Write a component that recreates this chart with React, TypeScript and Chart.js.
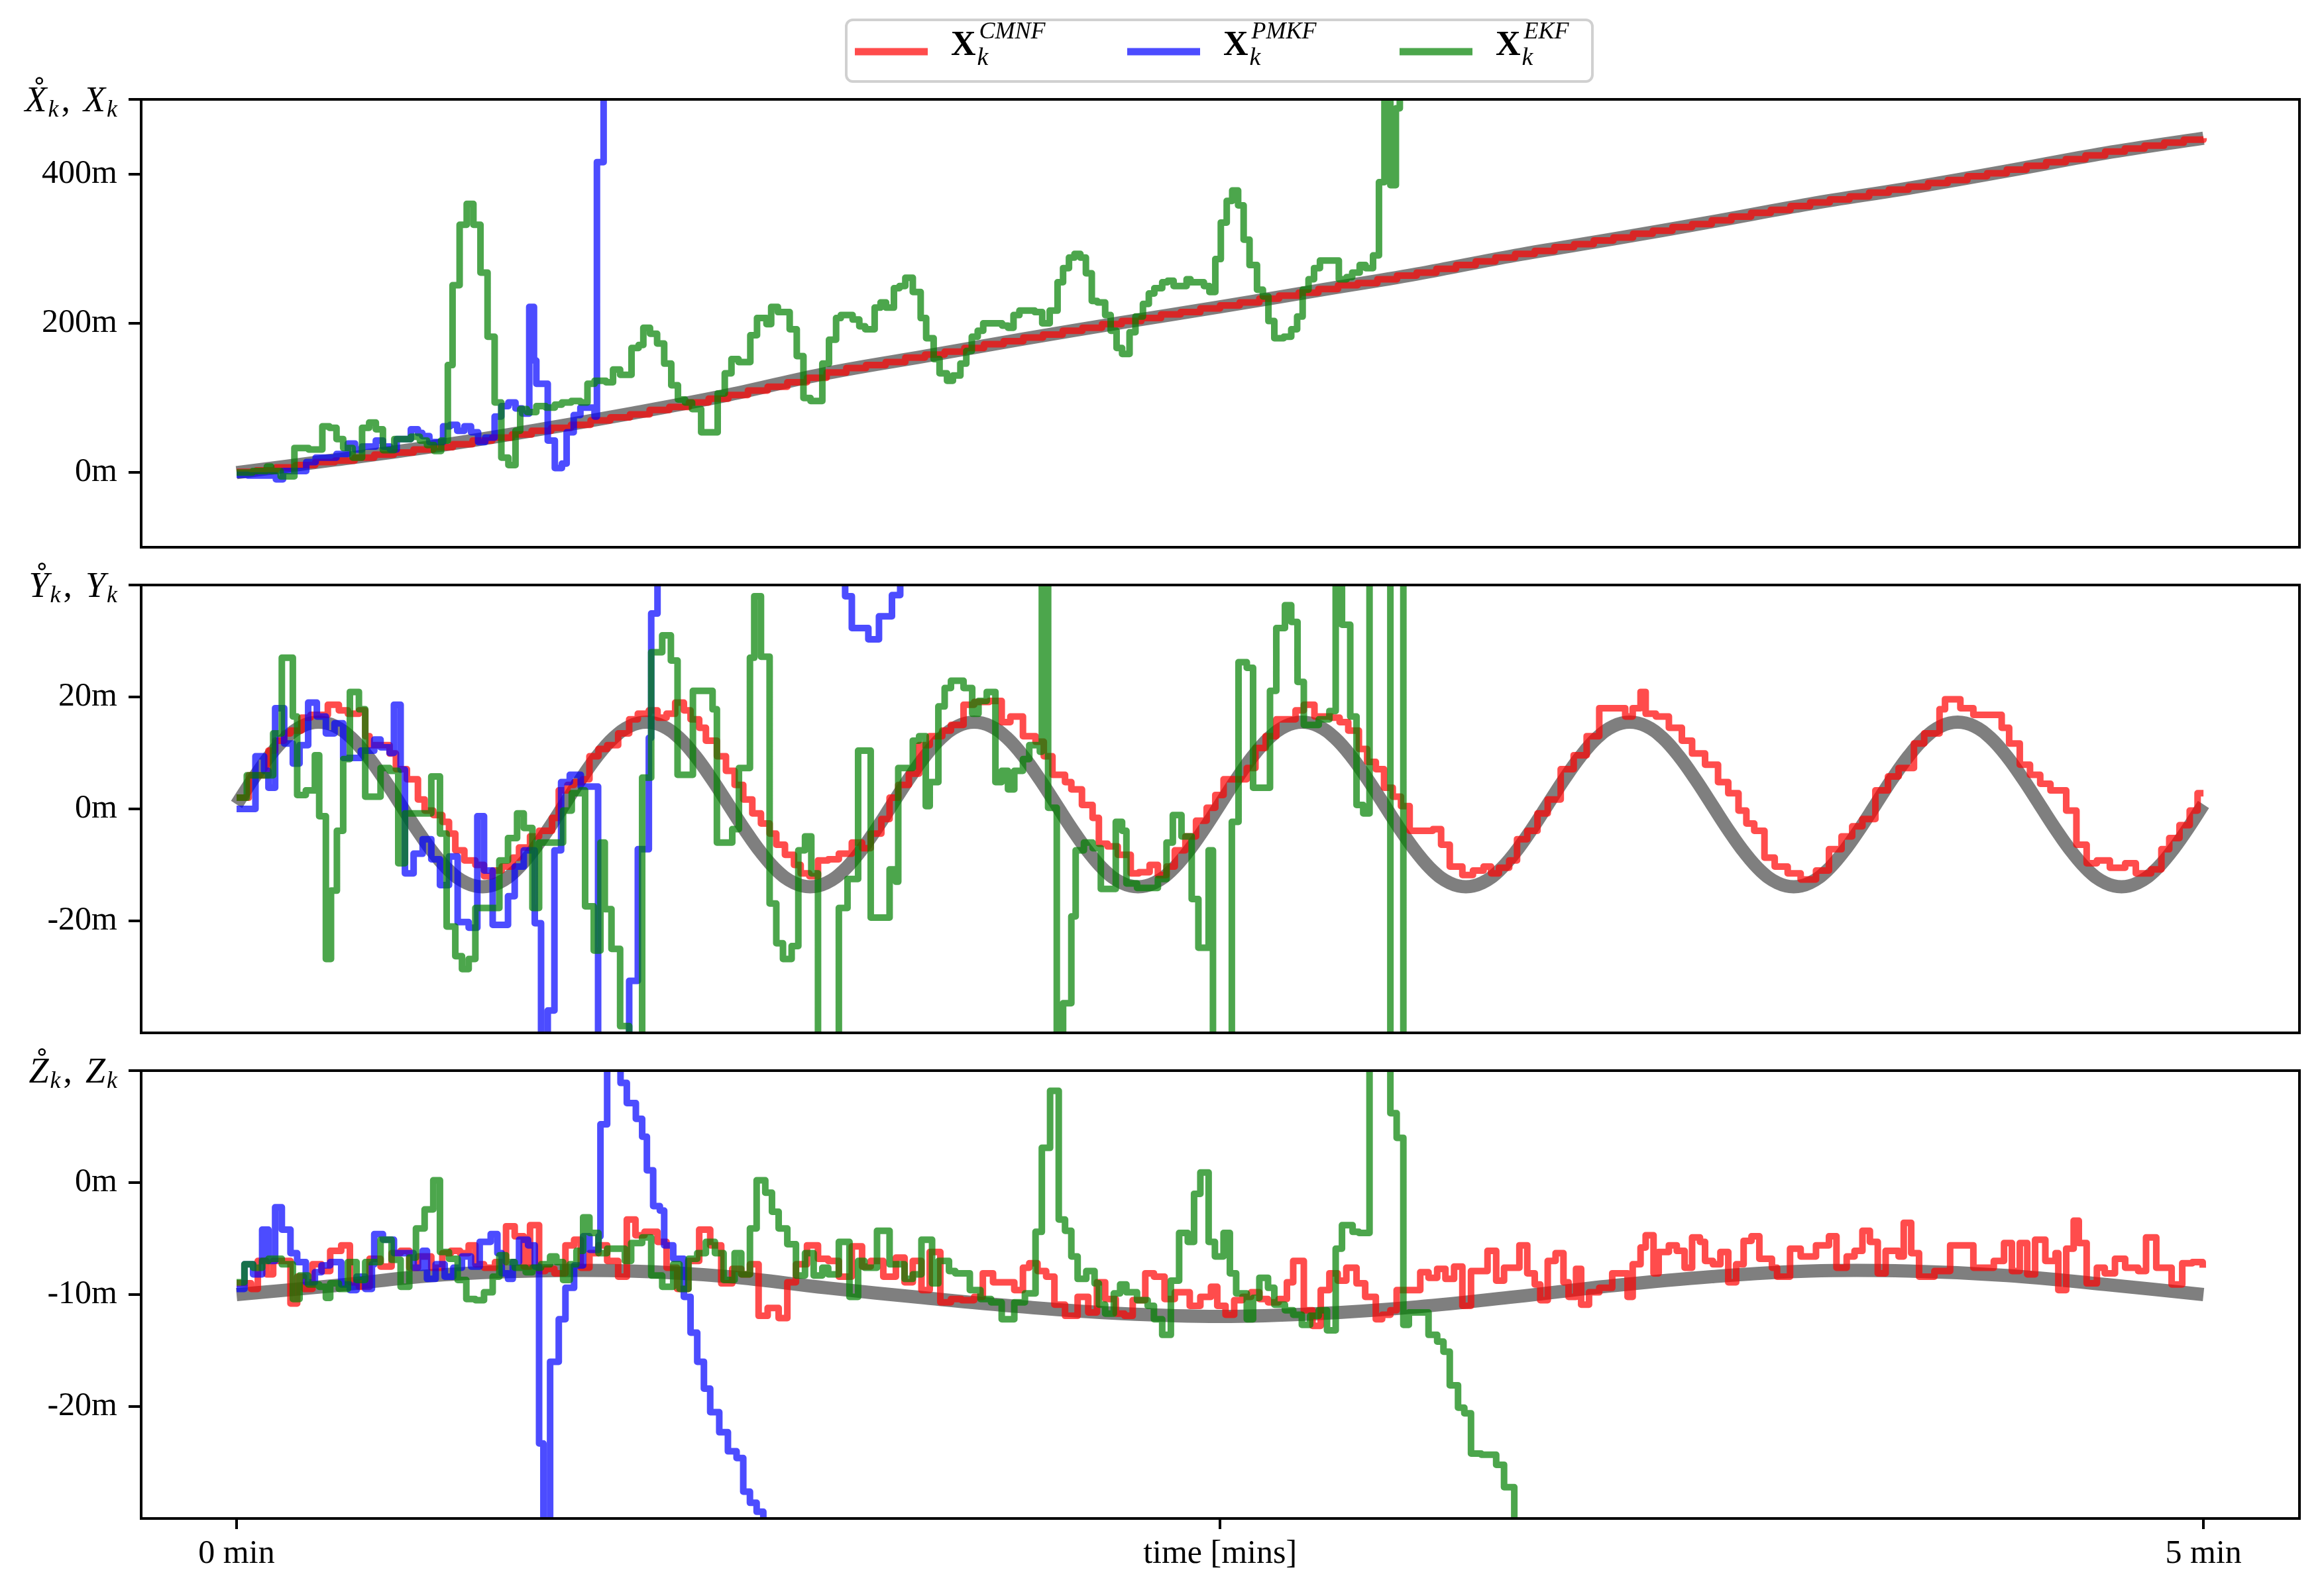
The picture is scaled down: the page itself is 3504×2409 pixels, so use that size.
import React, { useEffect, useRef } from "react";
import { Chart, registerables } from "chart.js";

Chart.register(...registerables);

// ----------------------------------------------------------------- data ---
// time in minutes
const quarterTimes = [0, 0.25, 0.5, 0.75, 1, 1.25, 1.5, 1.75, 2, 2.25, 2.5, 2.75, 3, 3.25, 3.5, 3.75, 4, 4.25, 4.5, 4.75, 5];

// ground truth
const truthX = [0, 17, 35, 56, 79, 104, 133, 156, 179, 201, 222, 244, 266, 291, 313, 336, 360, 381, 404, 428, 448];
const truthZ = [-10.0, -9.2, -8.3, -7.9, -7.9, -8.4, -9.4, -10.3, -11.1, -11.7, -11.95, -11.7, -11.1, -10.2, -9.2, -8.4, -7.9, -7.9, -8.3, -9.1, -10.0];
const TRUTH_Y_DT = 1 / 24;
const truthY = [
  0.8, 5.3, 9.4, 12.7, 14.8, 15.5, 14.8, 12.7, 9.4, 5.3, 0.8, -3.7, -7.8, -11.1, -13.2, -13.9, -13.2, -11.1, -7.8, -3.7,
  0.8, 5.3, 9.4, 12.7, 14.8, 15.5, 14.8, 12.7, 9.4, 5.3, 0.8, -3.7, -7.8, -11.1, -13.2, -13.9, -13.2, -11.1, -7.8, -3.7,
  0.8, 5.3, 9.4, 12.7, 14.8, 15.5, 14.8, 12.7, 9.4, 5.3, 0.8, -3.7, -7.8, -11.1, -13.2, -13.9, -13.2, -11.1, -7.8, -3.7,
  0.8, 5.3, 9.4, 12.7, 14.8, 15.5, 14.8, 12.7, 9.4, 5.3, 0.8, -3.7, -7.8, -11.1, -13.2, -13.9, -13.2, -11.1, -7.8, -3.7,
  0.8, 5.3, 9.4, 12.7, 14.8, 15.5, 14.8, 12.7, 9.4, 5.3, 0.8, -3.7, -7.8, -11.1, -13.2, -13.9, -13.2, -11.1, -7.8, -3.7,
  0.8, 5.3, 9.4, 12.7, 14.8, 15.5, 14.8, 12.7, 9.4, 5.3, 0.8, -3.7, -7.8, -11.1, -13.2, -13.9, -13.2, -11.1, -7.8, -3.7,
  0.8,
];

// CMNF estimate of X (uniform 0.05 min steps)
const CMNF_X_DT = 0.05;
const cmnfX = [
  1, 3, 7, 10, 14, 16, 20, 24, 27, 31,
  34, 38, 43, 47, 51, 56, 60, 64, 70, 74,
  78, 84, 88, 94, 99, 104, 110, 115, 121, 127,
  134, 140, 144, 148, 154, 158, 162, 167, 172, 176,
  181, 185, 190, 194, 199, 203, 207, 212, 215, 220,
  224, 228, 233, 237, 241, 246, 251, 254, 259, 264,
  268, 273, 278, 283, 288, 293, 297, 302, 306, 311,
  315, 320, 324, 329, 333, 338, 343, 348, 352, 357,
  362, 366, 370, 375, 379, 383, 388, 392, 397, 401,
  406, 411, 416, 420, 425, 430, 434, 438, 442, 446,
  448,
];

// [time, value] step breakpoints
const pmkfX: [number, number][] = [
  [0, -3], [0.029, -4], [0.1, -9], [0.118, 2], [0.177, 14], [0.201, 20], [0.254, 25], [0.283, 39], [0.301, 31],
  [0.319, 35], [0.354, 43], [0.372, 35], [0.39, 31], [0.407, 45], [0.443, 58], [0.461, 53], [0.472, 49], [0.49, 41],
  [0.525, 62], [0.543, 64], [0.561, 56], [0.579, 62], [0.596, 54], [0.614, 41], [0.632, 47], [0.656, 75], [0.673, 89],
  [0.691, 94], [0.709, 86], [0.726, 79], [0.744, 222], [0.756, 150], [0.762, 119], [0.791, 43], [0.809, 6], [0.827, 12],
  [0.839, 54], [0.857, 77], [0.874, 87], [0.91, 75], [0.916, 416], [0.933, 700], [0.95, 900],
];

const ekfX: [number, number][] = [
  [0, 0], [0.041, 2], [0.077, 8], [0.088, 2], [0.112, -5], [0.147, 33], [0.183, 31], [0.218, 62], [0.236, 60],
  [0.254, 45], [0.271, 33], [0.295, 20], [0.319, 60], [0.337, 67], [0.354, 58], [0.372, 30], [0.401, 45], [0.443, 48],
  [0.466, 43], [0.484, 37], [0.502, 29], [0.52, 43], [0.537, 144], [0.549, 251], [0.567, 332], [0.585, 360],
  [0.602, 332], [0.62, 268], [0.638, 182], [0.656, 94], [0.673, 20], [0.691, 10], [0.709, 56], [0.721, 85],
  [0.738, 81], [0.762, 89], [0.786, 87], [0.809, 91], [0.827, 94], [0.851, 96], [0.874, 94], [0.892, 119],
  [0.91, 123], [0.939, 121], [0.957, 138], [0.975, 131], [1.004, 167], [1.022, 171], [1.034, 194], [1.051, 186],
  [1.069, 173], [1.087, 146], [1.105, 117], [1.122, 98], [1.14, 94], [1.158, 85], [1.181, 54], [1.223, 106],
  [1.241, 133], [1.258, 152], [1.276, 148], [1.306, 184], [1.323, 207], [1.347, 199], [1.359, 222], [1.376, 215],
  [1.406, 192], [1.424, 156], [1.441, 100], [1.459, 96], [1.489, 146], [1.506, 178], [1.524, 207], [1.536, 211],
  [1.566, 205], [1.583, 196], [1.598, 192], [1.622, 221], [1.637, 228], [1.651, 221], [1.671, 247], [1.685, 250],
  [1.7, 261], [1.719, 242], [1.739, 207], [1.753, 180], [1.772, 152], [1.787, 133], [1.806, 123], [1.821, 130],
  [1.84, 146], [1.855, 163], [1.869, 182], [1.884, 190], [1.898, 200], [1.946, 197], [1.961, 194], [1.975, 211],
  [1.99, 217], [2.029, 215], [2.048, 200], [2.067, 217], [2.087, 255], [2.101, 274], [2.116, 288], [2.13, 293],
  [2.145, 288], [2.159, 267], [2.174, 230], [2.188, 228], [2.208, 211], [2.222, 190], [2.237, 167], [2.251, 159],
  [2.27, 188], [2.285, 209], [2.304, 226], [2.319, 240], [2.333, 247], [2.353, 255], [2.367, 257], [2.382, 250],
  [2.415, 259], [2.425, 255], [2.459, 250], [2.473, 242], [2.488, 286], [2.502, 335], [2.517, 364], [2.531, 378],
  [2.546, 358], [2.56, 312], [2.575, 278], [2.594, 245], [2.609, 236], [2.623, 203], [2.638, 180], [2.662, 182],
  [2.681, 192], [2.696, 209], [2.71, 245], [2.725, 259], [2.739, 274], [2.754, 284], [2.802, 259], [2.822, 262],
  [2.836, 268], [2.855, 278], [2.87, 274], [2.889, 291], [2.904, 389], [2.918, 530], [2.933, 385], [2.947, 488],
  [2.957, 520], [2.971, 700], [3.0, 900],
];

const cmnfY: [number, number][] = [
  [0, 2], [0.031, 6], [0.081, 10.4], [0.098, 12.2], [0.121, 13.5], [0.137, 14], [0.165, 16.3], [0.188, 16.8],
  [0.232, 18.6], [0.26, 17.6], [0.283, 17], [0.311, 17.6], [0.327, 13], [0.338, 11.4], [0.389, 9.9], [0.405, 7.1],
  [0.433, 5.3], [0.461, 1.7], [0.478, -0.3], [0.5, -1.1], [0.523, -2.3], [0.54, -4.4], [0.556, -7.4], [0.579, -9.2],
  [0.607, -10], [0.629, -12], [0.651, -11], [0.674, -10.3], [0.702, -8.7], [0.718, -6.9], [0.746, -4.9], [0.769, -3.9],
  [0.802, -1.6], [0.819, 3.3], [0.841, 4.3], [0.858, 4.8], [0.88, 5.3], [0.897, 9.4], [0.92, 10.7], [0.942, 11.4],
  [0.97, 13.5], [0.998, 16], [1.02, 17], [1.048, 17.6], [1.07, 16.3], [1.093, 17], [1.115, 19], [1.137, 17.6],
  [1.154, 16], [1.176, 14.5], [1.193, 12.2], [1.221, 9.4], [1.244, 6.8], [1.266, 4.3], [1.288, 1.7], [1.311, -0.8],
  [1.333, -2.6], [1.355, -4.4], [1.372, -6.4], [1.394, -8.2], [1.417, -10], [1.434, -11.5], [1.456, -12],
  [1.478, -9.2], [1.504, -9], [1.531, -8], [1.564, -6], [1.59, -7], [1.612, -4.4], [1.639, -1.8], [1.66, 2],
  [1.682, 4.3], [1.709, 6.3], [1.735, 11.4], [1.762, 13], [1.794, 14], [1.816, 15], [1.848, 18.6], [1.875, 19.1],
  [1.913, 19.3], [1.945, 15.5], [1.967, 16.5], [1.999, 13], [2.031, 12], [2.052, 9.4], [2.074, 6.1], [2.106, 4.8],
  [2.122, 3.5], [2.149, 0.7], [2.176, -1.6], [2.192, -6.2], [2.214, -6.7], [2.24, -8.2], [2.273, -11.5],
  [2.294, -11.3], [2.321, -10], [2.342, -11.8], [2.364, -10.3], [2.385, -7.4], [2.412, -4.9], [2.439, -2.1],
  [2.466, 0.2], [2.488, 2.5], [2.509, 5.3], [2.568, 7.3], [2.59, 10.9], [2.616, 13], [2.643, 16], [2.692, 17.6],
  [2.713, 18.6], [2.74, 16.5], [2.783, 16.3], [2.804, 15.5], [2.826, 14], [2.853, 10.7], [2.874, 8.4], [2.896, 7.1],
  [2.917, 3.8], [2.939, 2.2], [2.96, 0.5], [2.982, -3.9], [3.041, -3.6], [3.062, -6.4], [3.084, -10.3],
  [3.116, -11.8], [3.143, -11], [3.17, -10.3], [3.189, -11.5], [3.209, -10.5], [3.235, -9.2], [3.255, -5.4],
  [3.281, -3.9], [3.307, -0.8], [3.333, 1.7], [3.366, 7.1], [3.399, 9.6], [3.432, 13], [3.464, 18], [3.53, 16.5],
  [3.549, 18], [3.569, 20.9], [3.582, 17], [3.608, 16.5], [3.641, 14.5], [3.674, 12.2], [3.7, 9.9], [3.733, 7.9],
  [3.766, 4.8], [3.792, 2.8], [3.818, -0.3], [3.838, -2.6], [3.858, -3.9], [3.884, -8.7], [3.91, -10.3],
  [3.943, -11.5], [3.976, -12.6], [4.015, -11], [4.048, -7.2], [4.08, -4.9], [4.107, -3.1], [4.133, -1.8],
  [4.166, 3.3], [4.198, 5.8], [4.225, 7.3], [4.264, 11.7], [4.29, 13.5], [4.329, 17.8], [4.343, 19.6], [4.382, 18],
  [4.415, 16.8], [4.487, 14.5], [4.506, 11.7], [4.533, 7.9], [4.559, 6.1], [4.585, 4.5], [4.611, 3.3],
  [4.651, -0.3], [4.677, -6.4], [4.703, -9.7], [4.729, -9.2], [4.762, -10.5], [4.801, -9.7], [4.828, -11.5],
  [4.867, -10.8], [4.893, -7.2], [4.913, -5.2], [4.939, -2.9], [4.965, -0.3], [4.985, 2.8], [5.0, 2.8],
];

const pmkfY: [number, number][] = [
  [0, 0], [0.048, 9.4], [0.07, 6.8], [0.081, 3.8], [0.098, 18], [0.121, 11.7], [0.143, 8.1], [0.16, 11.4],
  [0.182, 19], [0.204, 16.5], [0.227, 13.5], [0.249, 15.3], [0.271, 9.1], [0.316, 10.4], [0.35, 12.4], [0.366, 11],
  [0.389, 10], [0.4, 18.6], [0.417, 7], [0.428, -11.5], [0.45, -8], [0.473, -5.4], [0.495, -9], [0.517, -13.6],
  [0.54, -8.5], [0.562, -20.2], [0.59, -21.2], [0.612, -1.3], [0.629, -11], [0.651, -20.7], [0.69, -15.6],
  [0.707, -10.3], [0.73, -7.4], [0.758, -20.4], [0.774, -45], [0.791, -36], [0.808, -7.4], [0.825, 4.8],
  [0.847, 6.1], [0.875, 4], [0.919, -45], [0.998, -30.7], [1.02, -7.2], [1.048, 12.7], [1.054, 34.9], [1.07, 60],
  [1.547, 38], [1.564, 32.3], [1.606, 30.3], [1.633, 34.4], [1.666, 38.2], [1.687, 60], [1.7, 100],
];

const ekfY: [number, number][] = [
  [0, 2], [0.026, 6], [0.065, 6], [0.093, 13.5], [0.115, 27], [0.143, 16.5], [0.154, 2.5], [0.176, 3.3],
  [0.199, 9.6], [0.21, -1.3], [0.227, -26.8], [0.24, -14.6], [0.255, -3.9], [0.271, 8.9], [0.288, 20.9],
  [0.311, 17.8], [0.327, 2.2], [0.366, 7.3], [0.389, 6.8], [0.411, -9.7], [0.428, -0.8], [0.495, 5.8], [0.517, -4.4],
  [0.534, -21], [0.556, -26.3], [0.573, -28.6], [0.59, -26.8], [0.607, -17.7], [0.668, -9.2], [0.69, -5.2],
  [0.713, -0.8], [0.73, -3.4], [0.752, -17.7], [0.769, -6], [0.83, -0.3], [0.852, 2.8], [0.875, 3.3], [0.886, -17.4],
  [0.908, -25.3], [0.925, -6], [0.936, -17.9], [0.953, -25], [0.975, -38.8], [0.998, -45], [1.031, 5.6], [1.054, 28],
  [1.082, 31], [1.104, 26.5], [1.121, 6.1], [1.16, 21.1], [1.21, 17.8], [1.221, -6], [1.26, -3.6], [1.277, 7.3],
  [1.305, 27], [1.316, 38], [1.333, 27.2], [1.355, -16.9], [1.372, -24], [1.389, -26.8], [1.411, -24.5],
  [1.428, -7.4], [1.445, -4.9], [1.461, -11.5], [1.478, -45], [1.531, -17.7], [1.553, -12.5], [1.58, 10.4],
  [1.612, -19.4], [1.66, -10.8], [1.676, -13], [1.682, 7.3], [1.719, 12.2], [1.735, 13], [1.752, 0.5], [1.762, 4.8],
  [1.784, 18.3], [1.8, 21.6], [1.816, 22.9], [1.848, 21.6], [1.87, 17], [1.886, 19.3], [1.907, 20.9], [1.929, 4.8],
  [1.945, 6.8], [1.961, 3.5], [1.977, 6.8], [1.999, 8.9], [2.015, 11.4], [2.042, 10.2], [2.047, 60], [2.063, 0.2],
  [2.085, -50], [2.101, -34.7], [2.122, -19.2], [2.133, -7.4], [2.154, -6], [2.176, -7], [2.197, -14.3],
  [2.235, -2.3], [2.251, -3.9], [2.262, -13.3], [2.289, -14.1], [2.342, -12.5], [2.364, -6], [2.38, -1.1],
  [2.402, -4.9], [2.428, -16.1], [2.445, -24.8], [2.471, -7.4], [2.482, -50], [2.53, -2.3], [2.547, 26.2],
  [2.568, 25.2], [2.584, 3.8], [2.627, 21.1], [2.643, 32.3], [2.665, 36.4], [2.681, 33.4], [2.697, 22.7],
  [2.713, 15], [2.751, 16], [2.778, 17.5], [2.794, 60], [2.81, 32.9], [2.831, 16.5], [2.847, 0.7], [2.864, -0.8],
  [2.88, 60], [2.933, -60], [2.966, 60], [2.99, 100],
];

const cmnfZ: [number, number][] = [
  [0, -9], [0.037, -9.5], [0.054, -7], [0.076, -8.2], [0.093, -7], [0.137, -10.8], [0.154, -8.4], [0.171, -9.5],
  [0.193, -7.3], [0.216, -7.9], [0.238, -6.1], [0.266, -5.6], [0.288, -8.9], [0.311, -9.3], [0.338, -6.8],
  [0.366, -7.5], [0.394, -6.3], [0.417, -6.1], [0.439, -7.6], [0.461, -6.6], [0.495, -7.6], [0.523, -6.3],
  [0.545, -6.1], [0.568, -6.3], [0.59, -5.6], [0.607, -7.3], [0.629, -7.6], [0.657, -7.1], [0.685, -3.9],
  [0.707, -4.8], [0.73, -7.5], [0.746, -3.8], [0.769, -7.9], [0.785, -7.7], [0.808, -8.1], [0.836, -5.6],
  [0.858, -5.1], [0.875, -7.6], [0.897, -6.3], [0.92, -5.6], [0.942, -7], [0.97, -8.4], [0.992, -3.3], [1.014, -4.7],
  [1.037, -4.4], [1.07, -5.3], [1.093, -7.6], [1.12, -9.5], [1.148, -7], [1.176, -4.2], [1.204, -5.6], [1.232, -9],
  [1.26, -7.7], [1.283, -8.2], [1.305, -7.3], [1.327, -11.9], [1.35, -11.2], [1.378, -12.1], [1.4, -8.9],
  [1.422, -7.3], [1.45, -5.6], [1.478, -6.8], [1.504, -7], [1.531, -8.4], [1.564, -5.7], [1.59, -7.5], [1.612, -7],
  [1.644, -8.4], [1.676, -6.7], [1.698, -8.9], [1.719, -7], [1.741, -9.6], [1.762, -6.2], [1.789, -10.7],
  [1.816, -10.4], [1.843, -10.5], [1.875, -10.2], [1.897, -8.1], [1.923, -8.9], [1.977, -9.6], [1.999, -7.6],
  [2.015, -7.2], [2.036, -7.9], [2.058, -8.4], [2.079, -10.9], [2.106, -11.9], [2.138, -10.2], [2.165, -11.6],
  [2.187, -8.9], [2.208, -10.4], [2.235, -11.7], [2.257, -11.9], [2.278, -10.5], [2.31, -8.1], [2.332, -8.4],
  [2.359, -10.4], [2.385, -9.8], [2.423, -11], [2.45, -10.2], [2.477, -9.3], [2.493, -11], [2.514, -11.8],
  [2.536, -10.5], [2.557, -10.2], [2.579, -9.8], [2.6, -10.4], [2.622, -10.7], [2.649, -10.4], [2.67, -8.9],
  [2.686, -7], [2.713, -11.4], [2.735, -12.8], [2.756, -9.6], [2.778, -8.1], [2.799, -8.75], [2.821, -7.6],
  [2.847, -9], [2.869, -10.2], [2.896, -12.2], [2.912, -11.8], [2.933, -11.4], [2.949, -9.6], [3.009, -8],
  [3.03, -8.5], [3.052, -7.7], [3.073, -8.6], [3.095, -7.5], [3.116, -11], [3.138, -7.9], [3.18, -6.1],
  [3.202, -8.75], [3.222, -7.6], [3.261, -5.6], [3.281, -8.1], [3.3, -9.1], [3.314, -10.5], [3.333, -7],
  [3.353, -6.3], [3.373, -8.9], [3.386, -10.2], [3.405, -7.7], [3.418, -10.9], [3.438, -9.8], [3.464, -9.4],
  [3.497, -8.1], [3.536, -10.2], [3.549, -7.3], [3.569, -5.8], [3.582, -4.7], [3.602, -8.1], [3.615, -6.2],
  [3.641, -5.6], [3.661, -6.1], [3.681, -7.6], [3.7, -4.9], [3.72, -5.3], [3.733, -7], [3.753, -7.3], [3.772, -6.2],
  [3.792, -8.9], [3.812, -7.3], [3.831, -5.2], [3.851, -4.8], [3.871, -6.8], [3.903, -7.6], [3.916, -8.4],
  [3.949, -5.9], [3.976, -6.6], [4.015, -5.6], [4.048, -4.8], [4.067, -7.6], [4.093, -6.6], [4.113, -6.1],
  [4.133, -4.3], [4.152, -5.3], [4.172, -8.1], [4.192, -6.1], [4.225, -6.6], [4.238, -3.6], [4.257, -6.3],
  [4.277, -8.4], [4.316, -7.9], [4.356, -5.6], [4.415, -7.6], [4.467, -7], [4.493, -5.4], [4.513, -7.9],
  [4.533, -5.4], [4.552, -8.2], [4.572, -5.1], [4.598, -7], [4.624, -6.3], [4.631, -9.6], [4.651, -5.9],
  [4.67, -3.4], [4.683, -5.4], [4.703, -9], [4.729, -7.6], [4.749, -8.1], [4.775, -6.8], [4.801, -7.6],
  [4.834, -7.9], [4.854, -4.9], [4.88, -7.6], [4.919, -9.1], [4.946, -7.2], [4.972, -7.1], [4.998, -7.6],
];

const pmkfZ: [number, number][] = [
  [0, -9.5], [0.02, -7.3], [0.042, -8.2], [0.065, -4.2], [0.081, -7], [0.098, -2.2], [0.115, -4.2], [0.137, -6.3],
  [0.154, -7.1], [0.176, -8.9], [0.199, -8], [0.216, -7.4], [0.238, -7.1], [0.266, -9.1], [0.288, -9.6],
  [0.305, -8.4], [0.327, -9.5], [0.344, -7.3], [0.35, -4.6], [0.372, -5.1], [0.4, -6.3], [0.45, -7.6], [0.473, -6.1],
  [0.484, -8.6], [0.506, -7.3], [0.529, -8.4], [0.551, -7.6], [0.573, -6.6], [0.596, -7.5], [0.618, -5.3],
  [0.646, -4.6], [0.663, -6.3], [0.674, -8.1], [0.69, -8.6], [0.702, -7.1], [0.718, -5.1], [0.741, -5.6],
  [0.758, -7.5], [0.769, -23.3], [0.78, -45], [0.797, -16], [0.819, -12.2], [0.836, -9.4], [0.858, -7.4],
  [0.881, -4.8], [0.897, -6], [0.92, -4.8], [0.925, 5.2], [0.942, 10.3], [0.976, 8.9], [0.992, 7.1], [1.015, 5.7],
  [1.031, 4.1], [1.043, 1.1], [1.059, -2.1], [1.076, -2.5], [1.087, -5.6], [1.11, -6.8], [1.137, -10.2],
  [1.154, -13.4], [1.171, -16], [1.188, -18.4], [1.204, -20.5], [1.227, -22.3], [1.249, -24], [1.271, -24.6],
  [1.288, -27.6], [1.305, -28.6], [1.322, -29.4], [1.339, -32],
];

const ekfZ: [number, number][] = [
  [0, -8.9], [0.02, -7.3], [0.042, -7.6], [0.065, -7], [0.081, -6.8], [0.115, -7.3], [0.143, -10.4], [0.16, -8.3],
  [0.182, -9.1], [0.21, -9.3], [0.227, -10.3], [0.238, -9], [0.26, -9.5], [0.283, -7.1], [0.305, -8.7],
  [0.327, -7.1], [0.366, -5.1], [0.394, -6.9], [0.417, -9.3], [0.439, -6.7], [0.456, -4.1], [0.478, -2.4],
  [0.5, 0.2], [0.517, -6.2], [0.54, -6.8], [0.562, -8.7], [0.584, -10.4], [0.607, -10.5], [0.629, -9.8],
  [0.651, -8.4], [0.668, -6.5], [0.685, -7.1], [0.707, -7.6], [0.735, -8], [0.752, -7.6], [0.774, -7.3],
  [0.797, -6.6], [0.813, -7.1], [0.83, -8.7], [0.847, -7.3], [0.864, -6.1], [0.881, -3.1], [0.897, -4.5],
  [0.92, -6.3], [0.942, -5.9], [0.987, -7], [1.003, -5.4], [1.031, -4.9], [1.054, -8.3], [1.082, -9.3],
  [1.11, -7.3], [1.126, -9.5], [1.149, -6.8], [1.171, -6.3], [1.193, -5.3], [1.216, -6.3], [1.238, -8.7],
  [1.266, -6.3], [1.283, -8.2], [1.305, -4.1], [1.322, 0.2], [1.344, -0.9], [1.361, -2.6], [1.378, -4.1],
  [1.4, -5.5], [1.422, -8.3], [1.445, -6.3], [1.467, -8.3], [1.489, -7.6], [1.504, -8.2], [1.531, -5.3],
  [1.558, -10.2], [1.58, -7], [1.596, -7.6], [1.628, -4.3], [1.66, -7.3], [1.698, -8.6], [1.719, -8.2],
  [1.741, -5.1], [1.768, -9], [1.784, -7], [1.811, -7.9], [1.827, -8.1], [1.864, -9.6], [1.891, -10.4],
  [1.918, -10.7], [1.945, -12.2], [1.977, -10.7], [2.004, -9.9], [2.031, -4.4], [2.047, 3.1], [2.068, 8.2],
  [2.09, -3.3], [2.106, -4.3], [2.122, -6.6], [2.138, -8.6], [2.16, -7.9], [2.181, -9], [2.192, -10.9],
  [2.208, -11.7], [2.23, -9.9], [2.246, -9.1], [2.262, -9.8], [2.289, -10.5], [2.316, -11], [2.332, -12.2],
  [2.353, -13.6], [2.375, -8.75], [2.396, -4.5], [2.418, -5.3], [2.434, -1], [2.45, 0.9], [2.471, -5.3],
  [2.487, -6.6], [2.509, -4.5], [2.525, -8.1], [2.541, -9.9], [2.568, -12.2], [2.584, -10.3], [2.6, -8.5],
  [2.622, -9.4], [2.638, -10.9], [2.665, -11.4], [2.686, -11.8], [2.708, -12.7], [2.729, -11.9], [2.751, -11.4],
  [2.772, -13.2], [2.794, -5.9], [2.81, -3.8], [2.837, -4.4], [2.853, -4.5], [2.88, 20], [2.933, 6.2], [2.949, 4],
  [2.966, -12.7], [2.98, -11.6], [3.03, -13.6], [3.052, -14.2], [3.068, -15.1], [3.084, -18.1], [3.105, -20.1],
  [3.121, -20.6], [3.138, -24.2], [3.164, -24.3], [3.202, -25.2], [3.222, -27.2], [3.248, -40],
];

// axes
const xTickValues = [0, 2.5, 5];
const xTickLabels = ["0 min", "time [mins]", "5 min"];
const yTicksX = [0, 200, 400, 500];
const yTickLabelsX = ["0m", "200m", "400m", ""];
const yTicksY = [-20, 0, 20, 40];
const yTickLabelsY = ["-20m", "0m", "20m", ""];
const yTicksZ = [-20, -10, 0, 10];
const yTickLabelsZ = ["-20m", "-10m", "0m", ""];
const legendNames = ["CMNF", "PMKF", "EKF"];

// ---------------------------------------------------------------- style ---
const W = 3504;
const H = 2409;
const FONT = '"Liberation Serif", "Times New Roman", serif';
const X_MIN = -0.2426;
const X_MAX = 5.244;
const PLOT_LEFT = 213;
const PLOT_RIGHT = 3470;
const PANEL_TOP = [150, 883, 1616];
const PANEL_BOTTOM = [826, 1559, 2292];
const X_AXIS_H = 100;
const Y_TICK_LEN = 19;
const Y_TICK_PAD = 17;

const C_TRUTH = "rgba(0,0,0,0.5)";
const C_CMNF = "rgba(255,0,0,0.7)";
const C_PMKF = "rgba(0,0,255,0.7)";
const C_EKF = "rgba(0,128,0,0.7)";
const LEGEND_COLORS = [C_CMNF, C_PMKF, C_EKF];

const pairs = (a: [number, number][]) => a.map(([x, y]) => ({ x, y }));
const onGrid = (vals: number[], dt: number) => vals.map((y, i) => ({ x: i * dt, y }));
const onTimes = (times: number[], vals: number[]) => vals.map((y, i) => ({ x: times[i], y }));

function truthDs(data: { x: number; y: number }[]) {
  return {
    label: "truth",
    data,
    borderColor: C_TRUTH,
    borderWidth: 20,
    tension: 0.4,
    pointRadius: 0,
    borderCapStyle: "butt" as const,
    borderJoinStyle: "round" as const,
    order: 4,
    clip: 0,
  };
}
function stepDs(label: string, data: { x: number; y: number }[], color: string, order: number) {
  return {
    label,
    data,
    borderColor: color,
    borderWidth: 10,
    stepped: true,
    pointRadius: 0,
    borderCapStyle: "butt" as const,
    borderJoinStyle: "round" as const,
    order,
    clip: 0,
  };
}

const framePlugin = {
  id: "frame",
  afterDraw(chart: any) {
    const { ctx, chartArea: a } = chart;
    ctx.save();
    ctx.strokeStyle = "#000";
    ctx.lineWidth = 4;
    ctx.strokeRect(a.left, a.top, a.right - a.left, a.bottom - a.top);
    ctx.restore();
  },
};

function makeYLabelPlugin(letter: string) {
  return {
    id: "ylabel" + letter,
    afterDraw(chart: any) {
      const ctx = chart.ctx;
      const ys = chart.scales.y;
      const yPix = ys.getPixelForValue(ys.max);
      const right = chart.chartArea.left - Y_TICK_LEN - Y_TICK_PAD;
      const big = `italic 54px ${FONT}`;
      const small = `italic 36px ${FONT}`;
      const norm = `54px ${FONT}`;
      const parts = [
        { t: letter, f: big, dy: 18, gap: 2, ring: true },
        { t: "k", f: small, dy: 26, gap: 4, ring: false },
        { t: ",", f: norm, dy: 18, gap: 20, ring: false },
        { t: letter, f: big, dy: 18, gap: 2, ring: false },
        { t: "k", f: small, dy: 26, gap: 0, ring: false },
      ];
      ctx.save();
      ctx.fillStyle = "#000";
      ctx.textBaseline = "alphabetic";
      ctx.textAlign = "left";
      let total = 0;
      const widths = parts.map((p) => {
        ctx.font = p.f;
        const w = ctx.measureText(p.t).width;
        total += w + p.gap;
        return w;
      });
      let x = right - total;
      parts.forEach((p, i) => {
        ctx.font = p.f;
        ctx.fillText(p.t, x, yPix + p.dy);
        if (p.ring) {
          ctx.beginPath();
          ctx.lineWidth = 2.5;
          ctx.strokeStyle = "#000";
          ctx.arc(x + widths[i] * 0.66, yPix - 28, 4.5, 0, Math.PI * 2);
          ctx.stroke();
        }
        x += widths[i] + p.gap;
      });
      ctx.restore();
    },
  };
}

const legendPlugin = {
  id: "richLegend",
  afterDraw(chart: any) {
    const ctx = chart.ctx;
    const bx = 1277, by = 30, bw = 1126, bh = 93, r = 10;
    ctx.save();
    ctx.beginPath();
    ctx.moveTo(bx + r, by);
    ctx.lineTo(bx + bw - r, by);
    ctx.arcTo(bx + bw, by, bx + bw, by + r, r);
    ctx.lineTo(bx + bw, by + bh - r);
    ctx.arcTo(bx + bw, by + bh, bx + bw - r, by + bh, r);
    ctx.lineTo(bx + r, by + bh);
    ctx.arcTo(bx, by + bh, bx, by + bh - r, r);
    ctx.lineTo(bx, by + r);
    ctx.arcTo(bx, by, bx + r, by, r);
    ctx.closePath();
    ctx.fillStyle = "rgba(255,255,255,0.8)";
    ctx.fill();
    ctx.strokeStyle = "#d0d0d0";
    ctx.lineWidth = 4;
    ctx.stroke();

    legendNames.forEach((name, i) => {
      const x0 = 1290 + i * 411;
      ctx.beginPath();
      ctx.strokeStyle = LEGEND_COLORS[i];
      ctx.lineWidth = 11;
      ctx.lineCap = "butt";
      ctx.moveTo(x0, 78);
      ctx.lineTo(x0 + 110, 78);
      ctx.stroke();

      ctx.fillStyle = "#000";
      ctx.textBaseline = "alphabetic";
      ctx.textAlign = "left";
      ctx.font = `bold 52px ${FONT}`;
      const tx = x0 + 145;
      ctx.fillText("X", tx, 83);
      const wx = ctx.measureText("X").width;
      ctx.font = `italic 38px ${FONT}`;
      ctx.fillText("k", tx + wx + 2, 98);
      ctx.font = `italic 36px ${FONT}`;
      ctx.fillText(name, tx + wx + 5, 58);
    });
    ctx.restore();
  },
};

function makeConfig(
  panel: number,
  datasets: any[],
  yTicks: number[],
  yLabels: string[],
  letter: string,
  withLegend: boolean
) {
  const showX = panel === 2;
  const yMin = panel === 0 ? -100 : panel === 1 ? -40 : -30;
  const yMax = yTicks[yTicks.length - 1];
  const plugins: any[] = [framePlugin, makeYLabelPlugin(letter)];
  if (withLegend) plugins.push(legendPlugin);
  return {
    type: "line" as const,
    data: { datasets },
    plugins,
    options: {
      animation: false as const,
      responsive: false,
      maintainAspectRatio: false,
      devicePixelRatio: 1,
      events: [],
      layout: {
        padding: {
          left: 0,
          right: W - PLOT_RIGHT,
          top: PANEL_TOP[panel],
          bottom: showX ? H - PANEL_BOTTOM[panel] - X_AXIS_H : H - PANEL_BOTTOM[panel],
        },
      },
      plugins: { legend: { display: false }, tooltip: { enabled: false } },
      scales: {
        x: {
          type: "linear" as const,
          min: X_MIN,
          max: X_MAX,
          display: showX,
          afterFit: (s: any) => {
            if (showX) s.height = X_AXIS_H;
          },
          afterBuildTicks: (s: any) => {
            s.ticks = xTickValues.map((v) => ({ value: v }));
          },
          border: { display: false },
          grid: {
            display: true,
            drawOnChartArea: false,
            drawTicks: true,
            tickLength: 16,
            tickWidth: 4,
            lineWidth: 4,
            color: "#000",
            tickColor: "#000",
          },
          ticks: {
            autoSkip: false,
            maxRotation: 0,
            padding: 8,
            color: "#000",
            font: { family: FONT, size: 50 },
            callback: (v: any) => {
              const i = xTickValues.indexOf(Number(v));
              return i >= 0 ? xTickLabels[i] : "";
            },
          },
        },
        y: {
          type: "linear" as const,
          min: yMin,
          max: yMax,
          position: "left" as const,
          afterFit: (s: any) => {
            s.width = PLOT_LEFT;
          },
          afterBuildTicks: (s: any) => {
            s.ticks = yTicks.map((v) => ({ value: v }));
          },
          border: { display: false },
          grid: {
            display: true,
            drawOnChartArea: false,
            drawTicks: true,
            tickLength: Y_TICK_LEN,
            tickWidth: 4,
            lineWidth: 4,
            color: "#000",
            tickColor: "#000",
          },
          ticks: {
            autoSkip: false,
            padding: Y_TICK_PAD,
            color: "#000",
            font: { family: FONT, size: 50 },
            callback: (v: any) => {
              const i = yTicks.indexOf(Number(v));
              return i >= 0 ? yLabels[i] : "";
            },
          },
        },
      },
    },
  };
}

export default function App() {
  const r1 = useRef<HTMLCanvasElement>(null);
  const r2 = useRef<HTMLCanvasElement>(null);
  const r3 = useRef<HTMLCanvasElement>(null);

  useEffect(() => {
    const charts: Chart[] = [];
    const dsX = [
      truthDs(onTimes(quarterTimes, truthX)),
      stepDs("CMNF", onGrid(cmnfX, CMNF_X_DT), C_CMNF, 3),
      stepDs("PMKF", pairs(pmkfX), C_PMKF, 2),
      stepDs("EKF", pairs(ekfX), C_EKF, 1),
    ];
    const dsY = [
      truthDs(onGrid(truthY, TRUTH_Y_DT)),
      stepDs("CMNF", pairs(cmnfY), C_CMNF, 3),
      stepDs("PMKF", pairs(pmkfY), C_PMKF, 2),
      stepDs("EKF", pairs(ekfY), C_EKF, 1),
    ];
    const dsZ = [
      truthDs(onTimes(quarterTimes, truthZ)),
      stepDs("CMNF", pairs(cmnfZ), C_CMNF, 3),
      stepDs("PMKF", pairs(pmkfZ), C_PMKF, 2),
      stepDs("EKF", pairs(ekfZ), C_EKF, 1),
    ];
    if (r1.current) charts.push(new Chart(r1.current, makeConfig(0, dsX, yTicksX, yTickLabelsX, "X", true) as any));
    if (r2.current) charts.push(new Chart(r2.current, makeConfig(1, dsY, yTicksY, yTickLabelsY, "Y", false) as any));
    if (r3.current) charts.push(new Chart(r3.current, makeConfig(2, dsZ, yTicksZ, yTickLabelsZ, "Z", false) as any));
    return () => charts.forEach((c) => c.destroy());
  }, []);

  const cs: React.CSSProperties = { position: "absolute", left: 0, top: 0, width: W, height: H };
  return (
    <div style={{ position: "fixed", left: 0, top: 0, width: W, height: H, background: "#fff", overflow: "hidden" }}>
      <canvas ref={r1} width={W} height={H} style={cs} />
      <canvas ref={r2} width={W} height={H} style={cs} />
      <canvas ref={r3} width={W} height={H} style={cs} />
    </div>
  );
}
